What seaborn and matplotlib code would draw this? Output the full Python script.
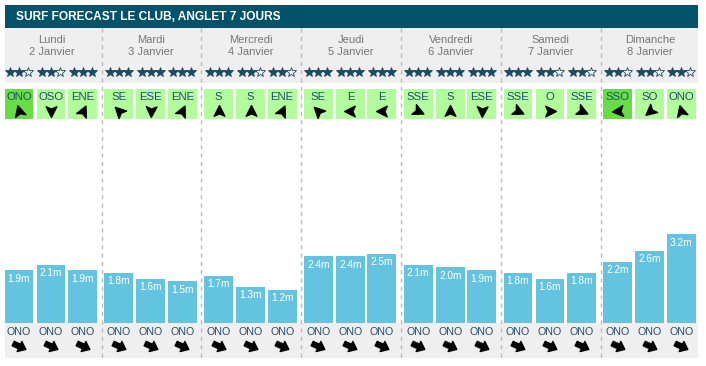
import numpy as np
import pandas as pd
import matplotlib
matplotlib.use('Agg')
import matplotlib.pyplot as plt
import seaborn as sns
from matplotlib.path import Path
from matplotlib.markers import MarkerStyle
from matplotlib.transforms import Affine2D
from matplotlib.patches import Rectangle

# --- données ---
title = "SURF FORECAST LE CLUB, ANGLET 7 JOURS"
days = ["Lundi", "Mardi", "Mercredi", "Jeudi", "Vendredi", "Samedi", "Dimanche"]
dates = ["2 Janvier", "3 Janvier", "4 Janvier", "5 Janvier", "6 Janvier", "7 Janvier", "8 Janvier"]
stars = [2, 2, 3, 3, 3, 3, 3, 2, 2, 3, 3, 3, 3, 3, 3, 3, 2, 2, 2, 2, 2]
wind_dir = ["ONO", "OSO", "ENE", "SE", "ESE", "ENE", "S", "S", "ENE", "SE", "E", "E",
            "SSE", "S", "ESE", "SSE", "O", "SSE", "SSO", "SO", "ONO"]
wind_strong = [1, 0, 0, 0, 0, 0, 0, 0, 0, 0, 0, 0, 0, 0, 0, 0, 0, 0, 1, 0, 0]
wave_m = [1.9, 2.1, 1.9, 1.8, 1.6, 1.5, 1.7, 1.3, 1.2, 2.4, 2.4, 2.5,
          2.1, 2.0, 1.9, 1.8, 1.6, 1.8, 2.2, 2.6, 3.2]
swell_dir = ["ONO"] * 21

# couleurs
HEADER = '#02536a'
GREY_BG = '#efefef'
BAR = '#64c3de'
GREEN = '#b3fc9c'
GREEN_DARK = '#66dd44'
TXT = '#1d4f73'
STAR = '#1b4a63'

# orientation apparente des icones de vent (degres, 90 = vers le haut)
wind_angle = {"ONO": 105, "OSO": 270, "ENE": 65, "SE": 135, "ESE": 268, "S": 90,
              "E": 180, "SSE": 335, "O": 0, "SSO": 185, "SO": 220}

W, H = 706, 366
DAY_W = 99.8
X0, X1 = 5, 698
XMAX = (X1 - X0) / DAY_W
SLOT_OFF = [0.14, 0.461, 0.777]
BOX_W = 0.29
PX_PER_M = 27.8
BASE = 323
TOP = 119
STAR_GAP = 9 / DAY_W

sns.set_theme(style='white')
plt.rcParams['font.family'] = ['Liberation Sans', 'DejaVu Sans']

n = len(wave_m)
xpos = [i // 3 + SLOT_OFF[i % 3] for i in range(n)]
df = pd.DataFrame({"x": xpos, "h": wave_m})

fig = plt.figure(figsize=(W / 100, H / 100), dpi=100)
fig.patch.set_facecolor('white')

# calque de fond (unites : jours en x, pixels en y)
ov = fig.add_axes([X0 / W, 0, (X1 - X0) / W, 1])
ov.set_xlim(0, XMAX)
ov.set_ylim(H, 0)
ov.axis('off')

ov.add_patch(Rectangle((0, 5), XMAX, 23, color=HEADER, lw=0))
ov.text(11 / DAY_W, 16.5, title, color='white', fontsize=8.6, fontweight='bold',
        ha='left', va='center')
ov.add_patch(Rectangle((0, 28), XMAX, 55, color=GREY_BG, lw=0))
ov.add_patch(Rectangle((0, BASE), XMAX, 35, color=GREY_BG, lw=0))

for d in range(7):
    ov.text(d + 0.465, 40, days[d], color='#777777', fontsize=8, ha='center', va='center')
    ov.text(d + 0.465, 52, dates[d], color='#777777', fontsize=8, ha='center', va='center')
    if d > 0:
        ov.vlines(d - 0.033, 28, 358, color='#bbbbbb', lw=1, linestyles=(0, (3, 3)))

head = Path([(0, 1), (0.9, -0.8), (0, -0.4), (-0.9, -0.8), (0, 1)],
            [Path.MOVETO, Path.LINETO, Path.LINETO, Path.LINETO, Path.CLOSEPOLY])
block = Path([(-1, -0.35), (0.0, -0.35), (0.0, -0.8), (1, 0), (0.0, 0.8),
              (0.0, 0.35), (-1, 0.35), (-1, -0.35)],
             [Path.MOVETO] + [Path.LINETO] * 6 + [Path.CLOSEPOLY])

for i in range(n):
    x = xpos[i]
    s = stars[i]
    for k in range(3):
        filled = k < s
        ov.plot([x + (k - 1) * STAR_GAP], [71.5], marker='*', ms=7, ls='',
                mfc=STAR if filled else 'none', mec=STAR, mew=0.6)
    ov.add_patch(Rectangle((x - BOX_W / 2, 89), BOX_W, 30, lw=0,
                           color=GREEN_DARK if wind_strong[i] else GREEN))
    ov.text(x, 97, wind_dir[i], color=TXT, fontsize=8.2, ha='center', va='center')
    m = MarkerStyle(head, transform=Affine2D().rotate_deg(wind_angle[wind_dir[i]] - 90))
    ov.plot([x], [110.5], marker=m, ms=8.5, color='black', ls='')
    ov.text(x, 332, swell_dir[i], color=TXT, fontsize=7.7, ha='center', va='center')
    m2 = MarkerStyle(block, transform=Affine2D().rotate_deg(-25))
    ov.plot([x], [346], marker=m2, ms=10, color='black', ls='')

# barres de houle
ax = fig.add_axes([X0 / W, (H - BASE) / H, (X1 - X0) / W, (BASE - TOP) / H])
ax.set_zorder(ov.get_zorder() + 1)
ax.patch.set_alpha(0)
min_gap = np.diff(np.unique(xpos)).min()
sns.barplot(data=df, x="x", y="h", native_scale=True, width=BOX_W / min_gap,
            color=BAR, saturation=1, errorbar=None, linewidth=0, ax=ax)
ax.set_xlim(0, XMAX)
ax.set_ylim(0, (BASE - TOP) / PX_PER_M)
ax.axis('off')

for p, v in zip(ax.patches, wave_m):
    ax.annotate(f"{v:.1f}m", (p.get_x() + p.get_width() / 2, p.get_height()),
                xytext=(0, -6.1), textcoords='offset points', ha='center', va='center',
                color='white', fontsize=7.3)

fig.savefig('out.png', dpi=100)
